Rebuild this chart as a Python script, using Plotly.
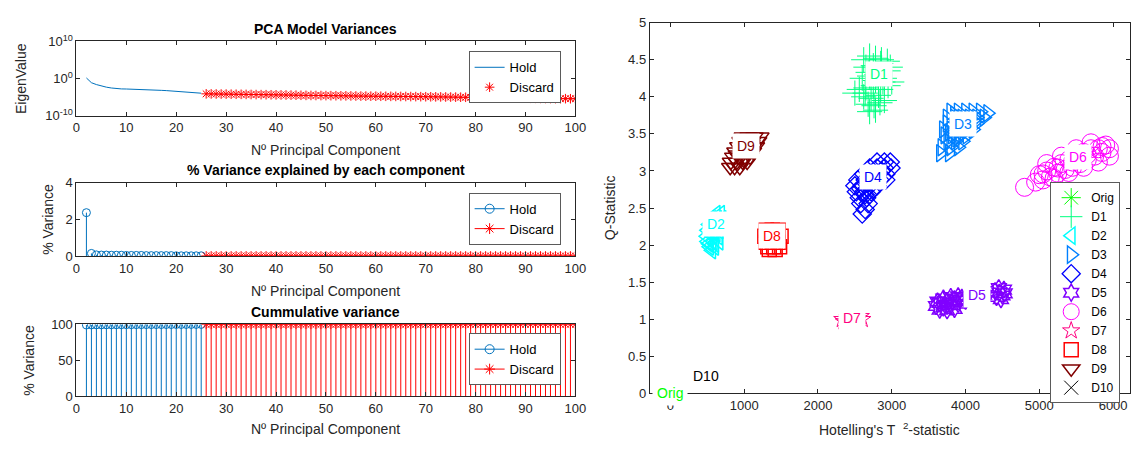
import plotly.graph_objects as go

W, H = 1147, 449
FONT = "Liberation Sans, Arial, Helvetica, sans-serif"
AX = "#262626"
BLUE = "#0072BD"
RED = "#FF0000"

# ---------------- PCA data ----------------
hold_pc = list(range(2, 26))
discard_pc = list(range(26, 101))

eig_hold = [1.5, 0.08, 0.025, 0.01, 5e-3, 3e-3, 2.0e-3, 1.7e-3, 1.6e-3, 1.5e-3,
            1.45e-3, 1.4e-3, 1.1e-3, 9e-4, 8e-4, 7e-4, 6e-4, 5e-4, 4e-4, 3.3e-4,
            2.6e-4, 2.0e-4, 1.5e-4, 1.2e-4]
eig_discard = [8.0e-5, 7.6e-5, 7.3e-5, 7.0e-5, 6.8e-5,
               6.5e-5, 6.2e-5, 6.0e-5, 5.7e-5, 5.4e-5, 5.1e-5, 4.9e-5, 4.7e-5, 4.5e-5, 4.3e-5,
               4.1e-5, 3.9e-5, 3.7e-5, 3.5e-5, 3.3e-5, 3.1e-5, 3.0e-5, 2.9e-5, 2.8e-5, 2.7e-5,
               2.6e-5, 2.5e-5, 2.4e-5, 2.3e-5, 2.2e-5, 2.1e-5, 2.0e-5, 1.95e-5, 1.9e-5, 1.85e-5,
               1.8e-5, 1.75e-5, 1.7e-5, 1.65e-5, 1.6e-5, 1.55e-5, 1.5e-5, 1.45e-5, 1.4e-5, 1.35e-5,
               1.3e-5, 1.25e-5, 1.2e-5, 1.15e-5, 1.1e-5, 1.05e-5, 1.0e-5, 9.6e-6, 9.2e-6, 8.8e-6,
               8.4e-6, 8.0e-6, 7.6e-6, 7.2e-6, 6.9e-6, 6.6e-6, 6.3e-6, 6.0e-6, 5.7e-6, 5.4e-6,
               5.2e-6, 5.0e-6, 4.8e-6, 4.6e-6, 4.4e-6, 4.2e-6, 4.1e-6, 4.0e-6, 3.9e-6, 3.8e-6]

var_hold = [2.37, 0.14, 0.06, 0.05, 0.05, 0.04, 0.04, 0.04, 0.03, 0.03, 0.03, 0.03,
            0.02, 0.02, 0.02, 0.02, 0.02, 0.02, 0.01, 0.01, 0.01, 0.01, 0.01, 0.01]
var_discard = [0.0040, 0.0039, 0.0038, 0.0037, 0.0036, 0.0035, 0.0034, 0.0033, 0.0032, 0.0031,
               0.0030, 0.0029, 0.0028, 0.0027, 0.0026, 0.0025, 0.0024, 0.0023, 0.0022, 0.0021,
               0.0020, 0.0020, 0.0019, 0.0019, 0.0018, 0.0018, 0.0017, 0.0017, 0.0016, 0.0016,
               0.0015, 0.0015, 0.0014, 0.0014, 0.0013, 0.0013, 0.0012, 0.0012, 0.0011, 0.0011,
               0.0010, 0.0010, 0.0010, 0.0010, 0.0009, 0.0009, 0.0009, 0.0009, 0.0008, 0.0008,
               0.0008, 0.0008, 0.0007, 0.0007, 0.0007, 0.0007, 0.0006, 0.0006, 0.0006, 0.0006,
               0.0005, 0.0005, 0.0005, 0.0005, 0.0005, 0.0004, 0.0004, 0.0004, 0.0004, 0.0004,
               0.0004, 0.0004, 0.0004, 0.0004, 0.0004]

cum_hold = [99.00, 99.14, 99.20, 99.25, 99.30, 99.34, 99.38, 99.42, 99.46, 99.49, 99.52, 99.55,
            99.58, 99.61, 99.64, 99.67, 99.69, 99.71, 99.73, 99.75, 99.77, 99.79, 99.81, 99.83]
cum_discard = [99.840, 99.843, 99.846, 99.849, 99.852, 99.855, 99.858, 99.861, 99.864, 99.867,
               99.870, 99.873, 99.876, 99.879, 99.882, 99.885, 99.888, 99.891, 99.894, 99.897,
               99.900, 99.903, 99.906, 99.909, 99.912, 99.915, 99.918, 99.921, 99.924, 99.927,
               99.930, 99.932, 99.934, 99.936, 99.938, 99.940, 99.942, 99.944, 99.946, 99.948,
               99.950, 99.952, 99.954, 99.956, 99.958, 99.960, 99.962, 99.964, 99.966, 99.968,
               99.970, 99.972, 99.974, 99.976, 99.978, 99.980, 99.981, 99.982, 99.983, 99.984,
               99.985, 99.986, 99.987, 99.988, 99.989, 99.990, 99.992, 99.993, 99.994, 99.995,
               99.996, 99.997, 99.998, 99.999, 100.000]

# ---------------- Hotelling / Q data ----------------
orig_x = [0]
orig_y = [0]
d1_x = [2620, 2700, 2780, 2860, 2940, 2980, 2650, 2750, 2850, 2950, 2600, 2700, 2800, 2900, 2560,
        2650, 2750, 2850, 2950, 2620, 2720, 2820, 2900, 2680, 2760, 2840, 2700, 2780, 2500, 3000,
        2680, 2880, 2640, 2780]
d1_y = [4.50, 4.55, 4.52, 4.50, 4.48, 4.40, 4.40, 4.42, 4.45, 4.35, 4.25, 4.28, 4.30, 4.25, 4.10,
        4.12, 4.15, 4.10, 4.15, 4.00, 3.98, 4.02, 3.95, 3.90, 3.88, 3.92, 3.80, 3.82, 4.05, 4.20,
        4.33, 4.20, 4.05, 4.22]
d2_x = [620, 680, 560, 640, 700, 520, 600, 680, 500, 580, 660, 490, 570, 650, 500, 580, 660, 530,
        600, 560, 540, 620, 520, 600]
d2_y = [2.42, 2.42, 2.35, 2.35, 2.35, 2.28, 2.28, 2.28, 2.20, 2.20, 2.20, 2.12, 2.12, 2.12,
        2.05, 2.05, 2.05, 1.98, 1.98, 1.93, 2.16, 2.16, 2.02, 2.02]
d3_x = [3800, 3900, 4000, 4100, 4200, 4300, 3750, 3850, 3950, 4050, 4150, 4250, 3750, 3850, 3950,
        4050, 4150, 3700, 3800, 3900, 4000, 4100, 3720, 3820, 3920, 4020, 3760, 3860, 3960, 3680,
        3800, 3900, 3660, 3780, 3850, 3950, 4050, 4150, 3780, 3880, 3980]
d3_y = [3.80, 3.80, 3.80, 3.80, 3.80, 3.78, 3.72, 3.72, 3.72, 3.72, 3.72, 3.72, 3.64, 3.64, 3.64,
        3.64, 3.64, 3.56, 3.56, 3.56, 3.56, 3.56, 3.48, 3.48, 3.48, 3.48, 3.40, 3.40, 3.40, 3.32,
        3.32, 3.32, 3.24, 3.24, 3.76, 3.68, 3.60, 3.68, 3.52, 3.44, 3.52]
d4_x = [2800, 2900, 2980, 2700, 2800, 2900, 2990, 2620, 2720, 2820, 2920, 2540, 2640, 2740, 2840,
        2920, 2500, 2600, 2700, 2800, 2520, 2620, 2720, 2560, 2660, 2580, 2680, 2640, 2600,
        2860, 2760, 2680, 2580, 2640, 2750]
d4_y = [3.12, 3.12, 3.12, 3.04, 3.04, 3.04, 3.04, 2.96, 2.96, 2.96, 2.96, 2.88, 2.88, 2.88, 2.88,
        2.88, 2.80, 2.80, 2.80, 2.80, 2.72, 2.72, 2.72, 2.64, 2.64, 2.56, 2.56, 2.48, 2.42,
        3.00, 2.92, 2.84, 2.76, 2.68, 2.76]
d5_x = [3600, 3650, 3700, 3750, 3800, 3850, 3900, 3950, 4000, 3700, 3800, 3900, 3650, 3750, 3850,
        4050, 4150, 4250, 4420, 4460, 4500, 4520, 4450, 4480, 4530, 4400, 3620, 3720, 3820, 3920]
d5_y = [1.18, 1.22, 1.16, 1.24, 1.19, 1.27, 1.21, 1.29, 1.25, 1.28, 1.30, 1.31, 1.13, 1.12, 1.14,
        1.30, 1.32, 1.33, 1.30, 1.36, 1.32, 1.40, 1.42, 1.27, 1.35, 1.38, 1.24, 1.20, 1.23, 1.26]
d6_x = [4800, 4950, 5000, 5050, 5100, 5150, 5200, 5250, 5300, 5350, 5400, 5450, 5500, 5550, 5600,
        5650, 5700, 5750, 5800, 5850, 5900, 5950, 5700, 5500, 5300, 5100, 5200, 5400, 5600, 5800, 5950,
        5050, 5250, 5450, 5650, 5850]
d6_y = [2.78, 2.85, 2.95, 2.88, 3.00, 2.92, 3.05, 2.97, 3.10, 3.02, 3.15, 3.05, 3.20, 3.10, 3.25,
        3.15, 3.30, 3.20, 3.30, 3.25, 3.35, 3.30, 3.38, 3.30, 3.20, 3.10, 2.90, 2.98, 3.05, 3.12, 3.20,
        2.96, 3.04, 3.12, 3.22, 3.33]
d7_x = [2330, 2400, 2480, 2550, 2600, 2350, 2580]
d7_y = [1.00, 1.02, 0.98, 1.01, 1.00, 0.97, 1.04]
d8_x = [1300, 1380, 1460, 1280, 1360, 1440, 1500, 1300, 1380, 1460, 1320, 1400, 1480, 1340, 1420]
d8_y = [2.20, 2.20, 2.20, 2.12, 2.12, 2.12, 2.12, 2.04, 2.04, 2.04, 1.98, 1.98, 1.98, 1.94, 1.94]
d9_x = [980, 1060, 1140, 1220, 950, 1030, 1110, 1190, 920, 1000, 1080, 1160, 880, 960, 1040, 1120,
        850, 930, 1010, 1080, 820, 900, 980, 1040, 810, 870, 940, 900, 990, 1100]
d9_y = [3.46, 3.46, 3.46, 3.46, 3.40, 3.40, 3.40, 3.40, 3.33, 3.33, 3.33, 3.33, 3.26, 3.26, 3.26,
        3.26, 3.19, 3.19, 3.19, 3.19, 3.12, 3.12, 3.12, 3.12, 3.05, 3.05, 3.05, 3.22, 3.15, 3.36]
d10_x = [None]
d10_y = [None]

label_text = ["Orig", "D1", "D2", "D3", "D4", "D5", "D6", "D7", "D8", "D9", "D10"]
label_x = [0, 2830, 617, 3968, 2748, 4155, 5523, 2466, 1381, 1019, 480]
label_y = [0, 4.31, 2.28, 3.63, 2.92, 1.33, 3.19, 1.02, 2.12, 3.34, 0.24]

# ---------------- styles ----------------
series_x = [orig_x, d1_x, d2_x, d3_x, d4_x, d5_x, d6_x, d7_x, d8_x, d9_x, d10_x]
series_y = [orig_y, d1_y, d2_y, d3_y, d4_y, d5_y, d6_y, d7_y, d8_y, d9_y, d10_y]
colors = ["#00FF00", "#00FF80", "#00FFFF", "#0080FF", "#0000FF", "#8000FF",
          "#FF00FF", "#FF0080", "#FF0000", "#800000", "#000000"]
symbols = ["asterisk-open", "cross-thin-open", "triangle-left-open", "triangle-right-open",
           "diamond-open", "hexagram-open", "circle-open", "star-open", "square-open",
           "triangle-down-open", "x-thin-open"]
sizes = [18, 18, 15, 15, 14, 13, 18, 13, 14, 15, 14]
widths = [1, 1, 1.5, 1.4, 1.3, 1.5, 1, 1, 1.5, 1.5, 1]


def px(x):
    return x / W


def py(y):
    return 1 - y / H


def stem(xs, ys):
    sx, sy = [], []
    for a, b in zip(xs, ys):
        sx += [a, a, None]
        sy += [0, b, None]
    return sx, sy


fig = go.Figure()

# ---- plot 1 ----
fig.add_trace(go.Scatter(x=hold_pc, y=eig_hold, mode="lines", name="Hold",
                         line=dict(color=BLUE, width=1), xaxis="x", yaxis="y", legend="legend"))
fig.add_trace(go.Scatter(x=discard_pc, y=eig_discard, mode="markers", name="Discard",
                         marker=dict(symbol="asterisk-open", size=8, color=RED, line=dict(color=RED, width=1)),
                         xaxis="x", yaxis="y", legend="legend"))

# ---- plot 2 & 3 (stems) ----
for (hv, dv, xa, ya, lg) in [(var_hold, var_discard, "x2", "y2", "legend2"),
                             (cum_hold, cum_discard, "x3", "y3", "legend3")]:
    sx, sy = stem(hold_pc, hv)
    fig.add_trace(go.Scatter(x=sx, y=sy, mode="lines", line=dict(color=BLUE, width=1),
                             showlegend=False, xaxis=xa, yaxis=ya, hoverinfo="skip"))
    sx, sy = stem(discard_pc, dv)
    fig.add_trace(go.Scatter(x=sx, y=sy, mode="lines", line=dict(color=RED, width=1),
                             showlegend=False, xaxis=xa, yaxis=ya, hoverinfo="skip"))
    fig.add_trace(go.Scatter(x=hold_pc, y=hv, mode="markers", showlegend=False,
                             marker=dict(symbol="circle-open", size=8, color=BLUE, line=dict(color=BLUE, width=1)),
                             xaxis=xa, yaxis=ya))
    fig.add_trace(go.Scatter(x=discard_pc, y=dv, mode="markers", showlegend=False,
                             marker=dict(symbol="asterisk-open", size=8, color=RED, line=dict(color=RED, width=1)),
                             xaxis=xa, yaxis=ya))
    fig.add_trace(go.Scatter(x=[None], y=[None], mode="lines+markers", name="Hold",
                             line=dict(color=BLUE, width=1),
                             marker=dict(symbol="circle-open", size=9, color=BLUE, line=dict(color=BLUE, width=1)),
                             xaxis=xa, yaxis=ya, legend=lg))
    fig.add_trace(go.Scatter(x=[None], y=[None], mode="lines+markers", name="Discard",
                             line=dict(color=RED, width=1),
                             marker=dict(symbol="asterisk-open", size=9, color=RED, line=dict(color=RED, width=1)),
                             xaxis=xa, yaxis=ya, legend=lg))

# ---- plot 4 (scatter clusters) ----
for name, xs, ys, c, s, z, lw in zip(label_text, series_x, series_y, colors, symbols, sizes, widths):
    fig.add_trace(go.Scatter(x=xs, y=ys, mode="markers", name=name,
                             marker=dict(symbol=s, size=z, color=c, line=dict(color=c, width=lw)),
                             xaxis="x4", yaxis="y4", legend="legend4"))

for t, x, y, c in zip(label_text, label_x, label_y, colors):
    fig.add_annotation(x=x, y=y, xref="x4", yref="y4", text=t, showarrow=False,
                       font=dict(family=FONT, size=14, color=c), bgcolor="white", borderpad=4)

# ---------------- axes ----------------
common = dict(showline=True, linecolor=AX, linewidth=1, mirror="ticks", ticks="inside",
              ticklen=4, tickcolor=AX, showgrid=False, zeroline=False,
              tickfont=dict(family=FONT, size=13, color=AX))

xl = [px(73.4), px(579)]
xdom_right = [px(654.3), px(1141)]
lay = dict(
    xaxis=dict(domain=xl, anchor="y", range=[0, 100], dtick=10, **common),
    yaxis=dict(domain=[py(111), py(33.7)], anchor="x", type="log", range=[-10, 10],
               tickvals=[1e-10, 1, 1e10],
               ticktext=["10<sup>-10</sup>", "10<sup>0</sup>", "10<sup>10</sup>"], **common),
    xaxis2=dict(domain=xl, anchor="y2", range=[0, 100], dtick=10, **common),
    yaxis2=dict(domain=[py(256.7), py(180.7)], anchor="x2", range=[0, 4], dtick=2, **common),
    xaxis3=dict(domain=xl, anchor="y3", range=[0, 100], dtick=10, **common),
    yaxis3=dict(domain=[py(402.3), py(327.7)], anchor="x3", range=[0, 100], dtick=50, **common),
    xaxis4=dict(domain=xdom_right, anchor="y4", range=[-280, 6230],
                tickvals=[0, 1000, 2000, 3000, 4000, 5000, 6000], **common),
    yaxis4=dict(domain=[py(399.6), py(14.2)], anchor="x4", range=[0, 5], dtick=0.5, **common),
)

leg_common = dict(bgcolor="white", bordercolor="#5a5a5a", borderwidth=1,
                  font=dict(family=FONT, size=13, color="#000"), tracegroupgap=0,
                  xanchor="right", yanchor="top", itemclick=False)
lay["legend"] = dict(x=px(564), y=py(44), **leg_common)
lay["legend2"] = dict(x=px(564), y=py(191), **leg_common)
lay["legend3"] = dict(x=px(564), y=py(337), **leg_common)
leg4 = dict(leg_common)
leg4["font"] = dict(family=FONT, size=12, color="#000")
lay["legend4"] = dict(x=px(1131), y=py(180), itemsizing="trace", **leg4)

fig.update_layout(width=W, height=H, margin=dict(l=0, r=0, t=0, b=0),
                  paper_bgcolor="white", plot_bgcolor="white",
                  font=dict(family=FONT, color=AX), **lay)

# ---------------- titles / labels ----------------
def txt(x, y, s, size=14, bold=False, angle=0, color=AX):
    fig.add_annotation(x=px(x), y=py(y), xref="paper", yref="paper", text=("<b>%s</b>" % s) if bold else s,
                       showarrow=False, textangle=angle, xanchor="center", yanchor="middle",
                       font=dict(family=FONT, size=size, color="#000" if bold else color))

cx = (73.4 + 579) / 2
txt(cx, 21, "PCA Model Variances", 14, True)
txt(cx, 147, "Nº Principal Component", 14)
txt(17, 72, "EigenValue", 14, angle=-90)
txt(cx, 167, "% Variance explained by each component", 14, True)
txt(cx, 293, "Nº Principal Component", 14)
txt(45, 218.7, "% Variance", 14, angle=-90)
txt(cx, 315, "Cummulative variance", 14, True)
txt(cx, 437, "Nº Principal Component", 14)
txt(26, 365, "% Variance", 14, angle=-90)
txt(897, 437, "Hotelling's T  <sup>2</sup>-statistic", 14)
txt(614, 206, "Q-Statistic", 14, angle=-90)

fig.write_html("out.html", config={"displayModeBar": False},
               post_script="document.body.style.margin='0';")
